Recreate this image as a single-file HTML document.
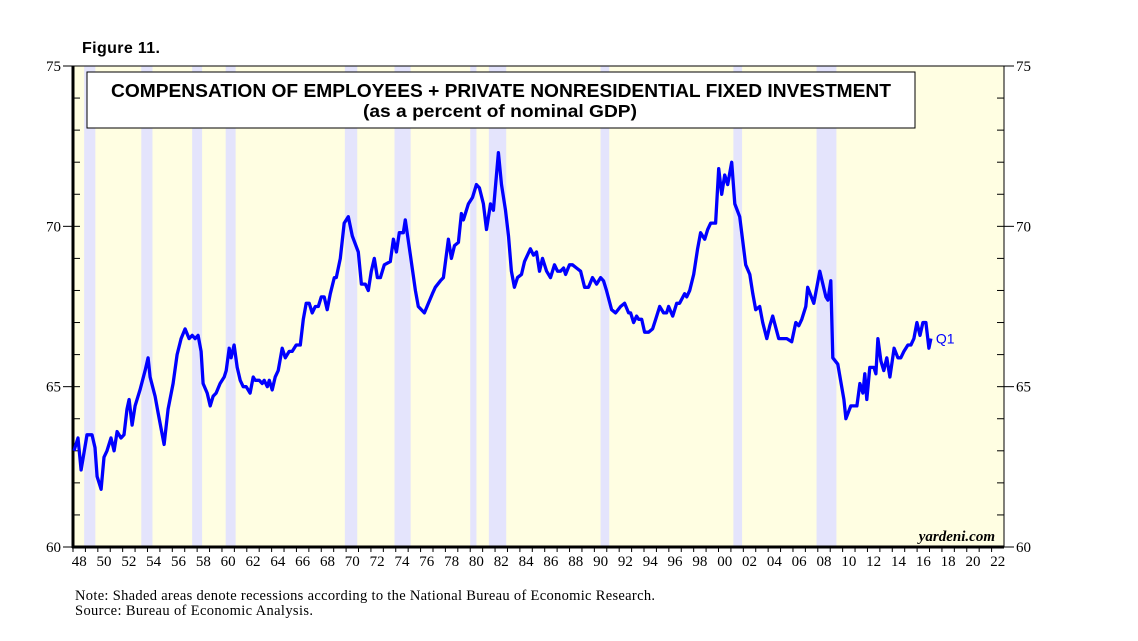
<!DOCTYPE html>
<html><head><meta charset="utf-8"><style>
body{margin:0;background:#fff;width:1138px;height:636px;overflow:hidden;font-family:"Liberation Sans",sans-serif}
</style></head><body>
<svg width="1138" height="636" xmlns="http://www.w3.org/2000/svg">
<text x="82" y="53" font-family="Liberation Sans" font-weight="bold" font-size="16" textLength="78">Figure 11.</text>
<g id="plot"></g>
<text x="75" y="600" font-family="Liberation Serif" font-size="14.5" textLength="580">Note: Shaded areas denote recessions according to the National Bureau of Economic Research.</text>
<text x="75" y="615" font-family="Liberation Serif" font-size="14.5" textLength="238">Source: Bureau of Economic Analysis.</text>
</svg>
<script>
const years=[1948.08,1948.40,1948.65,1949.13,1949.53,1949.77,1949.94,1950.26,1950.50,1950.74,1951.06,1951.31,1951.55,1951.87,1952.11,1952.35,1952.52,1952.76,1953.00,1953.40,1953.81,1954.05,1954.21,1954.61,1954.85,1955.34,1955.66,1956.06,1956.39,1956.71,1957.03,1957.35,1957.60,1957.84,1958.08,1958.32,1958.48,1958.81,1959.05,1959.29,1959.53,1959.85,1960.18,1960.34,1960.58,1960.74,1960.98,1961.23,1961.47,1961.71,1961.95,1962.27,1962.52,1962.68,1963.00,1963.24,1963.40,1963.65,1963.81,1964.05,1964.29,1964.53,1964.85,1965.10,1965.42,1965.66,1965.98,1966.31,1966.55,1966.79,1967.03,1967.27,1967.52,1967.76,1968.00,1968.24,1968.48,1968.73,1969.05,1969.21,1969.53,1969.85,1970.18,1970.50,1970.98,1971.23,1971.55,1971.79,1972.03,1972.27,1972.52,1972.76,1973.08,1973.56,1973.81,1974.05,1974.29,1974.61,1974.77,1975.18,1975.58,1975.82,1976.31,1976.63,1976.95,1977.19,1977.60,1977.84,1978.24,1978.48,1978.73,1979.05,1979.29,1979.45,1979.85,1980.18,1980.50,1980.74,1981.06,1981.31,1981.63,1981.87,1982.27,1982.52,1982.84,1983.08,1983.32,1983.56,1983.81,1984.13,1984.37,1984.85,1985.10,1985.34,1985.58,1985.82,1986.15,1986.47,1986.79,1987.03,1987.27,1987.52,1987.68,1988.00,1988.24,1988.56,1988.89,1989.21,1989.53,1989.85,1990.18,1990.50,1990.74,1990.98,1991.39,1991.71,1992.11,1992.44,1992.76,1992.92,1993.16,1993.40,1993.56,1993.81,1994.05,1994.37,1994.69,1994.94,1995.26,1995.58,1995.82,1995.98,1996.31,1996.63,1996.87,1997.27,1997.44,1997.68,1998.00,1998.32,1998.56,1998.89,1999.13,1999.37,1999.77,2000.02,2000.26,2000.50,2000.74,2001.06,2001.31,2001.71,2002.19,2002.52,2002.76,2003.00,2003.32,2003.56,2003.89,2004.13,2004.37,2004.85,2005.50,2005.90,2006.23,2006.47,2006.71,2007.03,2007.19,2007.68,2008.16,2008.65,2008.81,2009.05,2009.21,2009.61,2010.10,2010.26,2010.66,2010.90,2011.15,2011.39,2011.63,2011.79,2011.95,2012.19,2012.52,2012.68,2012.84,2013.08,2013.32,2013.56,2013.81,2014.15,2014.45,2014.69,2014.94,2015.26,2015.50,2015.74,2015.98,2016.23,2016.47,2016.71,2016.95,2017.11];
const values=[63.0,63.4,62.4,63.5,63.5,63.1,62.2,61.8,62.8,63.0,63.4,63.0,63.6,63.4,63.5,64.3,64.6,63.8,64.4,64.9,65.5,65.9,65.3,64.7,64.2,63.2,64.3,65.1,66.0,66.5,66.8,66.5,66.6,66.5,66.6,66.1,65.1,64.8,64.4,64.7,64.8,65.1,65.3,65.5,66.2,65.9,66.3,65.6,65.2,65.0,65.0,64.8,65.3,65.2,65.2,65.1,65.2,65.0,65.2,64.9,65.3,65.5,66.2,65.9,66.1,66.1,66.3,66.3,67.1,67.6,67.6,67.3,67.5,67.5,67.8,67.8,67.4,67.9,68.4,68.4,69.0,70.1,70.3,69.7,69.2,68.2,68.2,68.0,68.6,69.0,68.4,68.4,68.8,68.9,69.6,69.2,69.8,69.8,70.2,69.1,68.0,67.5,67.3,67.6,67.9,68.1,68.3,68.4,69.6,69.0,69.4,69.5,70.4,70.2,70.7,70.9,71.3,71.2,70.7,69.9,70.7,70.5,72.3,71.3,70.5,69.7,68.6,68.1,68.4,68.5,68.9,69.3,69.1,69.2,68.6,69.0,68.6,68.4,68.8,68.6,68.6,68.7,68.5,68.8,68.8,68.7,68.6,68.1,68.1,68.4,68.2,68.4,68.3,68.0,67.4,67.3,67.5,67.6,67.3,67.3,67.0,67.2,67.1,67.1,66.7,66.7,66.8,67.1,67.5,67.3,67.3,67.5,67.2,67.6,67.6,67.9,67.8,68.0,68.5,69.3,69.8,69.6,69.9,70.1,70.1,71.8,71.0,71.6,71.3,72.0,70.7,70.3,68.8,68.5,67.9,67.4,67.5,67.0,66.5,66.9,67.2,66.5,66.5,66.4,67.0,66.9,67.1,67.5,68.1,67.6,68.6,67.8,67.7,68.3,65.9,65.7,64.6,64.0,64.4,64.4,64.4,65.1,64.8,65.4,64.6,65.6,65.6,65.4,66.5,65.8,65.5,65.9,65.3,66.2,65.9,65.9,66.1,66.3,66.3,66.5,67.0,66.6,67.0,67.0,66.2,66.5];
const recStart=[1948.9,1953.5,1957.6,1960.3,1969.9,1973.9,1980.0,1981.5,1990.5,2001.2,2007.9];
const recEnd=[1949.8,1954.4,1958.4,1961.1,1970.9,1975.2,1980.5,1982.9,1991.2,2001.9,2009.5];
const yTicks=[60,65,70,75];
const NS='http://www.w3.org/2000/svg';
const L=73,R=1004,T=66,B=547,X0=1948,X1=2023,Y0=60,Y1=75;
const xs=v=>L+(v-X0)/(X1-X0)*(R-L);
const ys=v=>B-(v-Y0)/(Y1-Y0)*(B-T);
const g=document.getElementById('plot');
function mk(tag,attrs,parent){const e=document.createElementNS(NS,tag);for(const k in attrs)e.setAttribute(k,attrs[k]);(parent||g).appendChild(e);return e;}
let e=mk('rect',{x:L,y:T,width:R-L,height:B-T,fill:'#fffee2'});


recStart.forEach((s,i)=>{const r=mk('rect',{x:xs(s),y:T,width:xs(recEnd[i])-xs(s),height:B-T,fill:'#e4e4fc'});

});
e=mk('rect',{x:L,y:T,width:R-L,height:B-T,fill:'none',stroke:'#000','stroke-width':1});


mk('line',{x1:L,y1:T,x2:L,y2:B+1,stroke:'#000','stroke-width':3});
mk('line',{x1:L-1,y1:B,x2:R,y2:B,stroke:'#000','stroke-width':3});
for(let v=Y0;v<=Y1;v++){const y=ys(v);
 mk('line',{x1:L,y1:y,x2:L+7,y2:y,stroke:'#000','stroke-width':1});
 mk('line',{x1:R,y1:y,x2:R-7,y2:y,stroke:'#000','stroke-width':1});}
yTicks.forEach(v=>{const y=ys(v);
 mk('line',{x1:L-10,y1:y,x2:L,y2:y,stroke:'#000','stroke-width':1});
 mk('line',{x1:R,y1:y,x2:R+10,y2:y,stroke:'#000','stroke-width':1});
 let t=mk('text',{x:L-12,y:y+5,'text-anchor':'end','font-family':'Liberation Serif','font-size':15});t.textContent=v;
 
 
 t=mk('text',{x:R+12,y:y+5,'font-family':'Liberation Serif','font-size':15});t.textContent=v;
 
 });
for(let yr=X0;yr<X1;yr++){const x=xs(yr);
 mk('line',{x1:x,y1:B,x2:x,y2:B+5,stroke:'#000','stroke-width':1});
 if(yr%2===0){const t=mk('text',{x:xs(yr+0.5),y:B+19,'text-anchor':'middle','font-family':'Liberation Serif','font-size':15});
 t.textContent=String(yr%100).padStart(2,'0');
 
 }}
const d=years.map((yr,i)=>(i?'L':'M')+xs(yr).toFixed(1)+','+ys(values[i]).toFixed(1)).join('');
e=mk('path',{d:d,fill:'none',stroke:'#0000ff','stroke-width':3.3,'stroke-linejoin':'round'});


e=mk('text',{x:xs(years[years.length-1])+5,y:ys(values[values.length-1])+5,fill:'#0000ff','font-family':'Liberation Sans','font-size':14});e.textContent='Q1';


e=mk('rect',{x:87,y:72,width:828,height:56,fill:'#fff',stroke:'#000','stroke-width':1});


e=mk('text',{x:111,y:97,'font-family':'Liberation Sans','font-weight':'bold','font-size':18.5,textLength:780,lengthAdjust:'spacingAndGlyphs'});e.textContent='COMPENSATION OF EMPLOYEES + PRIVATE NONRESIDENTIAL FIXED INVESTMENT';


e=mk('text',{x:363,y:117,'font-family':'Liberation Sans','font-weight':'bold','font-size':17.5,textLength:274,lengthAdjust:'spacingAndGlyphs'});e.textContent='(as a percent of nominal GDP)';


e=mk('text',{x:995,y:541,'text-anchor':'end','font-family':'Liberation Serif','font-style':'italic','font-weight':'bold','font-size':15});e.textContent='yardeni.com';


</script>
</body></html>
